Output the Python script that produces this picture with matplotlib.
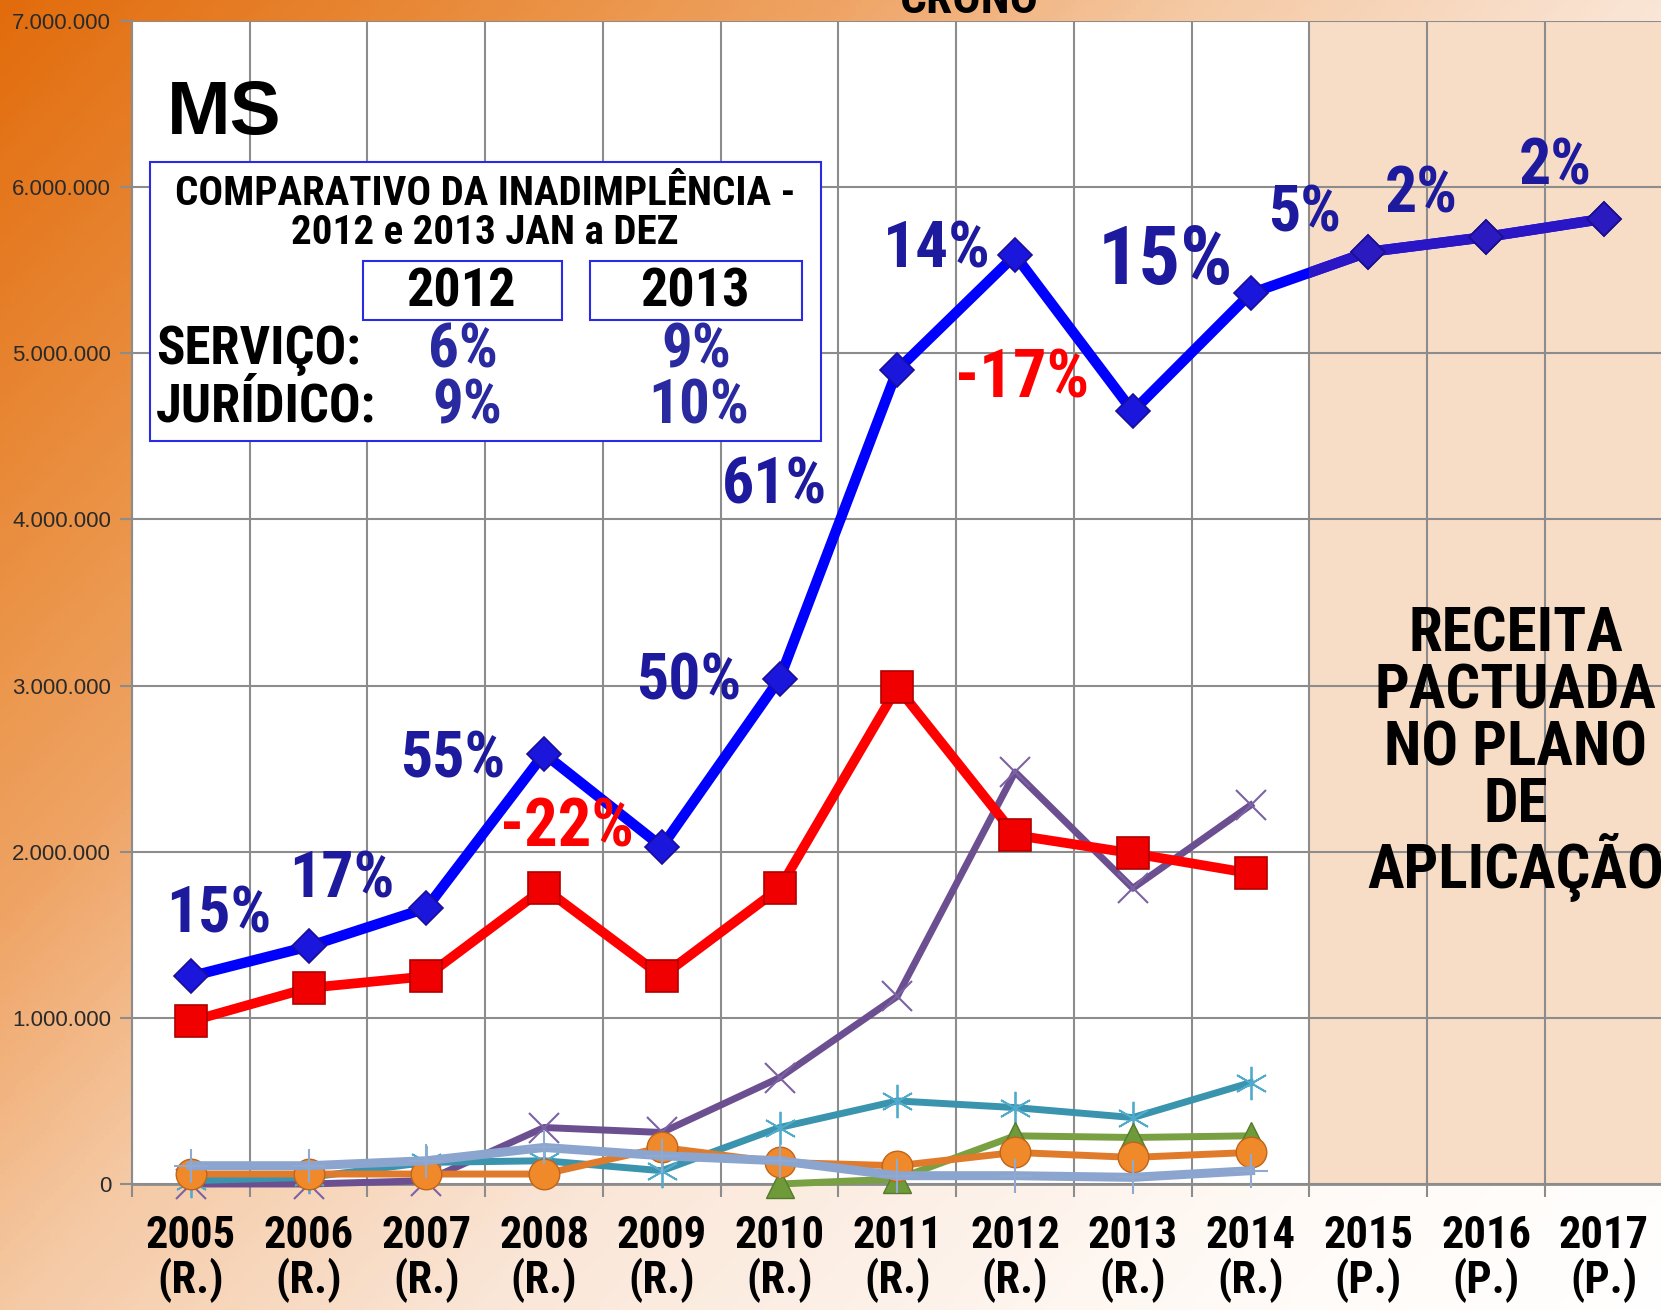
import numpy as np
import matplotlib.pyplot as plt
from matplotlib import font_manager
from matplotlib.colors import LinearSegmentedColormap
from matplotlib.patches import Rectangle
from matplotlib.ticker import FuncFormatter

# categories
anos = ['2005', '2006', '2007', '2008', '2009', '2010', '2011',
        '2012', '2013', '2014', '2015', '2016', '2017']
tipo = ['(R.)'] * 10 + ['(P.)'] * 3

# series values
serie_azul = [1250000, 1430000, 1660000, 2590000, 2030000, 3040000, 4900000,
              5590000, 4650000, 5360000, 5610000, 5700000, 5810000]
serie_vermelha = [980000, 1180000, 1250000, 1780000, 1250000, 1780000, 2990000,
                  2100000, 1990000, 1870000]
serie_roxa = [0, 0, 20000, 340000, 310000, 640000, 1130000, 2480000, 1780000, 2280000]
serie_turquesa = [20000, 40000, 130000, 140000, 80000, 340000, 500000, 460000, 400000, 610000]
serie_verde = [None, None, None, None, None, 0, 30000, 290000, 280000, 290000]
serie_laranja = [60000, 60000, 60000, 60000, 220000, 130000, 110000, 190000, 160000, 190000]
serie_azulclaro = [110000, 110000, 140000, 220000, 170000, 140000, 50000, 50000, 40000, 80000]

# growth labels
rotulos_azul = ['15%', '17%', '55%', '50%', '61%', '14%', '15%', '5%', '2%', '2%']
rotulos_vermelho = ['-22%', '-17%']

# the original uses a narrow bold face (sizes below are tuned for Roboto Condensed)
nomes = {f.name for f in font_manager.fontManager.ttflist}
if 'Roboto Condensed' in nomes:
    NARROW, K = ['Roboto Condensed', 'DejaVu Sans'], 1.0
elif 'Liberation Sans Narrow' in nomes:
    NARROW, K = ['Liberation Sans Narrow', 'DejaVu Sans'], 0.95
else:
    NARROW, K = ['Liberation Sans', 'DejaVu Sans'], 0.82

fig = plt.figure(figsize=(16.61, 13.10), dpi=100)

# background gradient
bg = fig.add_axes([0, 0, 1, 1], zorder=-10)
yy, xx = np.mgrid[0:1:262j, 0:1:332j]
t = np.clip((xx * 1.39 + yy * 1.0) / 2.4, 0, 1)
cmap = LinearSegmentedColormap.from_list('bg', [
    (0.0, '#E26C0C'), (0.5 / 2.4, '#EB954A'), (0.7 / 2.4, '#EFA465'),
    (1.0 / 2.4, '#F5C9A4'), (1.4 / 2.4, '#FAE6D7'), (2.0 / 2.4, '#FFFAF6'),
    (1.0, '#FFFFFF')])
bg.imshow(t, cmap=cmap, vmin=0, vmax=1, aspect='auto', extent=[0, 1, 0, 1])
bg.axis('off')

ax = fig.add_axes([132 / 1661, 1 - 1184 / 1310, 1.001 - 132 / 1661, (1184 - 21) / 1310])
ax.set_facecolor('white')
ax.set_xlim(-0.5, 12.5)
ax.set_ylim(0, 7000000)
ax.axvspan(9.5, 12.5, color='#F8DDC6', zorder=0, lw=0)

ax.set_axisbelow(True)
ax.set_yticks(np.arange(0, 7000001, 1000000))
ax.yaxis.set_major_formatter(FuncFormatter(lambda v, p: f'{v:,.0f}'.replace(',', '.')))
ax.set_xticks(np.arange(13))
ax.set_xticklabels([f'{a}\n{b}' for a, b in zip(anos, tipo)])
ax.set_xticks(np.arange(-0.5, 13, 1), minor=True)
ax.grid(which='major', axis='y', color='#8C8C8C', lw=1.5)
ax.grid(which='minor', axis='x', color='#8C8C8C', lw=1.5)
ax.tick_params(axis='y', direction='out', length=9, width=1.5, color='#8C8C8C',
               pad=6, labelsize=16, labelcolor='#2A2A2A')
for lab in ax.get_yticklabels():
    lab.set_family(['Liberation Sans', 'DejaVu Sans'])
ax.tick_params(axis='x', which='major', length=0, pad=22)
ax.tick_params(axis='x', which='minor', direction='out', length=9, width=1.5, color='#8C8C8C')
for lab in ax.get_xticklabels():
    lab.set_family(NARROW)
    lab.set_weight('bold')
    lab.set_fontsize(32 * K)
    lab.set_linespacing(1.05)
for s in ['top', 'right']:
    ax.spines[s].set_visible(False)
ax.spines['left'].set_color('#8C8C8C')
ax.spines['left'].set_linewidth(1.5)
ax.spines['bottom'].set_color('#8C8C8C')
ax.spines['bottom'].set_linewidth(2)

x10 = np.arange(10)
x13 = np.arange(13)
verde = np.array([np.nan if v is None else v for v in serie_verde], dtype=float)

ax.plot(x10, serie_roxa, color='#6C4F90', lw=5, marker='x', ms=22, mew=1.5,
        mec='#7A62A3', zorder=3, clip_on=False)
ax.plot(x10, serie_turquesa, color='#3A94AE', lw=5, marker=(6, 2, 0), ms=24, mew=1.3,
        mec='#4FAACB', zorder=3, clip_on=False)
ax.plot(x10, verde, color='#79A043', lw=5, marker='^', ms=20, mfc='#6F9A3A',
        mec='#557A2A', zorder=3.2, clip_on=False)
ax.plot(x10, serie_laranja, color='#E07B2C', lw=5, marker='o', ms=22, mfc='#F0892A',
        mec='#C0641A', zorder=3.3, clip_on=False)
ax.plot(x10, serie_azulclaro, color='#8BA5CE', lw=6.5, marker='+', ms=24, mew=1.5,
        mec='#8FA9D0', zorder=3.4, clip_on=False)
ax.plot(x10, serie_vermelha, color='#FF0000', lw=7, marker='s', ms=23, mfc='#F00000',
        mec='#B00000', mew=1.2, zorder=4)
ax.plot(x13, serie_azul, color='#0000FF', lw=7.5, marker='D', ms=17, mfc='#1A16DC',
        mec='#1A0E9A', mew=1.2, zorder=5)
proj, = ax.plot(x13, serie_azul, color='#2B16C6', lw=7.5, marker='D', ms=17, mfc='#2A1AC0',
                mec='#1A0E8A', mew=1.2, zorder=5.1)
proj.set_clip_path(Rectangle((9.5, 0), 3, 7000000, transform=ax.transData))

# growth labels positions (data coords)
pos_azul = [(0.24, 1620000), (1.28, 1830000), (2.22, 2550000), (4.23, 3020000),
            (4.96, 4200000), (6.34, 5620000), (8.28, 5550000), (9.46, 5840000),
            (10.45, 5950000), (11.59, 6120000)]
tam_azul = [46, 46, 46, 46, 46, 47, 59, 46, 46, 46]
for txt, (px, py), fs in zip(rotulos_azul, pos_azul, tam_azul):
    ax.text(px, py, txt, color='#1E1A9E', fontsize=fs * K, family=NARROW, weight='bold',
            ha='center', va='center', zorder=6)
pos_vermelho = [(3.19, 2140000), (7.06, 4840000)]
for txt, (px, py) in zip(rotulos_vermelho, pos_vermelho):
    ax.text(px, py, txt, color='#FF0000', fontsize=48 * K, family=NARROW, weight='bold',
            ha='center', va='center', zorder=6)

ax.text(11.25, 2590000, 'RECEITA\nPACTUADA\nNO PLANO\nDE\nAPLICAÇÃO', fontsize=44 * K,
        family=NARROW, weight='bold', ha='center', va='center', linespacing=0.98,
        color='black', zorder=6)


# figure-level annotations (coordinates given in the 1568x1237 preview)
def fx(p):
    return p / 1568


def fy(p):
    return 1 - p / 1237


fig.text(fx(915), fy(12), 'CRONO', fontsize=34 * K, family=NARROW, weight='bold',
         ha='center', va='baseline')
fig.text(fx(158), fy(108), 'MS', fontsize=55, family=['Liberation Sans', 'DejaVu Sans'],
         weight='bold', ha='left', va='center')

fig.patches.append(Rectangle((fx(142), fy(416)), fx(775) - fx(142), fy(153) - fy(416),
                             transform=fig.transFigure, fc='white', ec='#2B2BE6', lw=1.5,
                             zorder=7))
for x0, x1 in [(343, 531), (557, 757)]:
    fig.patches.append(Rectangle((fx(x0), fy(302)), fx(x1) - fx(x0), fy(246) - fy(302),
                                 transform=fig.transFigure, fc='white', ec='#2B2BE6',
                                 lw=1.5, zorder=8))

fig.text(fx(458), fy(183), 'COMPARATIVO DA INADIMPLÊNCIA -', fontsize=29.5 * K, family=NARROW,
         weight='bold', ha='center', va='center', zorder=9)
fig.text(fx(458), fy(220), '2012 e 2013 JAN a DEZ', fontsize=29.5 * K, family=NARROW,
         weight='bold', ha='center', va='center', zorder=9)
fig.text(fx(435), fy(276), '2012', fontsize=39 * K, family=NARROW, weight='bold',
         ha='center', va='center', zorder=9)
fig.text(fx(656), fy(276), '2013', fontsize=39 * K, family=NARROW, weight='bold',
         ha='center', va='center', zorder=9)
fig.text(fx(147), fy(331), 'SERVIÇO:', fontsize=38 * K, family=NARROW, weight='bold',
         ha='left', va='center', zorder=9)
fig.text(fx(147), fy(384), 'JURÍDICO:', fontsize=38 * K, family=NARROW, weight='bold',
         ha='left', va='center', zorder=9)
for txt, px, py in [('6%', 437, 331), ('9%', 657, 331), ('9%', 441, 384), ('10%', 660, 384)]:
    fig.text(fx(px), fy(py), txt, fontsize=44 * K, family=NARROW, weight='bold',
             color='#2A2AA0', ha='center', va='center', zorder=9)

fig.savefig('out.png', dpi=100)
